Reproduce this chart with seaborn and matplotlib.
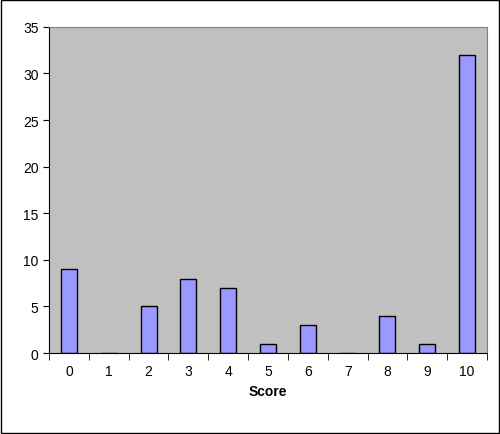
import matplotlib
matplotlib.use("Agg")
import matplotlib.pyplot as plt
import seaborn as sns
import pandas as pd
from matplotlib.patches import Rectangle

scores = ["0", "1", "2", "3", "4", "5", "6", "7", "8", "9", "10"]
counts = [9, 0, 5, 8, 7, 1, 3, 0, 4, 1, 32]

df = pd.DataFrame({"Score": scores, "Count": counts})
plt.rcParams['font.family'] = ['Liberation Sans', 'DejaVu Sans']
fig = plt.figure(figsize=(5, 4.35), dpi=100)
ax = fig.add_axes([0.098, 0.186, 0.876, 0.75])
sns.barplot(data=df, x="Score", y="Count", color="#9999FF", edgecolor="black",
            linewidth=1, width=0.4, saturation=1, ax=ax)
ax.set_facecolor("#C0C0C0")
ax.set_ylim(0, 35)
ax.set_yticks(range(0, 36, 5))
ax.set_xlim(-0.5, 10.5)
ax.set_ylabel("")
ax.set_xlabel("Score", fontsize=10, fontweight="bold")
ax.tick_params(labelsize=10, direction="out", length=4)
ax.tick_params(axis="x", length=0, pad=8)
for s in ax.spines.values():
    s.set_color("#808080")
ax.spines["left"].set_color("black")
ax.spines["bottom"].set_color("black")
# category separator ticks
ax.set_xticks([i - 0.5 for i in range(12)], minor=True)
ax.tick_params(axis="x", which="minor", length=5, direction="out")
fig.patches.append(Rectangle((0.002, 0.002), 0.996, 0.996, transform=fig.transFigure,
                             fill=False, edgecolor="black", linewidth=1))
fig.savefig("out.png", dpi=100)
